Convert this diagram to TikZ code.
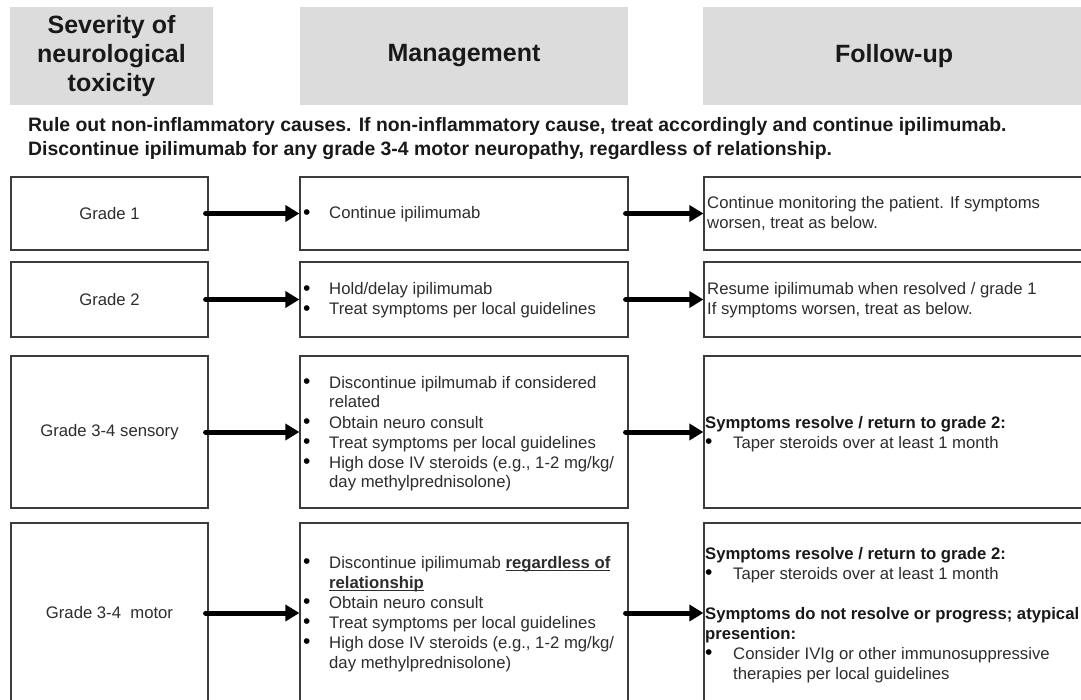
\documentclass[tikz,border=0pt]{standalone}
\usepackage{fontspec}
\setmainfont{Liberation Sans}
\usetikzlibrary{arrows.meta}
\definecolor{hdrfill}{RGB}{220,220,220}
\definecolor{boxline}{RGB}{60,60,60}
\definecolor{bodytext}{RGB}{45,45,45}
\definecolor{strongtext}{RGB}{25,25,25}
\newcommand\bodyfont{\fontsize{16.7pt}{20pt}\selectfont}
\newcommand\bul{\textcolor{black}{\fontsize{21pt}{20pt}\selectfont\raisebox{-0.9pt}{\textbullet}}}
% bold text with a heavy underline
\newsavebox\thickulbox
\newcommand\thickul[1]{\sbox\thickulbox{\bfseries #1}\rlap{\rule[-2.8pt]{\wd\thickulbox}{1.3pt}}\usebox\thickulbox}
\begin{document}
\begin{tikzpicture}[x=1pt,y=-1pt,
  hdr/.style={fill=hdrfill, draw=none, inner sep=0pt, align=center, text=strongtext,
              font=\fontsize{25pt}{29pt}\selectfont\bfseries},
  box/.style={draw=boxline, line width=1.2pt, inner sep=0pt, fill=white},
  leftbox/.style={box, minimum width=197pt, font=\bodyfont, text=bodytext},
  midbox/.style={box, minimum width=328pt},
  rightbox/.style={box, minimum width=382pt},
  txt/.style={inner sep=0pt, anchor=base west, text=bodytext, font=\bodyfont},
  arr/.style={line width=5pt, draw=black, line cap=round, -{Triangle[length=14pt,width=16pt]}}
]
\useasboundingbox (0,0) rectangle (1081,700);
\clip (0,0) rectangle (1081,700);

% column headers
\node[hdr, minimum width=203pt, minimum height=98pt] (hsev) at (111.5,56) {Severity of\\neurological\\toxicity};
\node[hdr, minimum width=328pt, minimum height=98pt] (hman) at (464,56) {Management};
\node[hdr, minimum width=382pt, minimum height=98pt] (hfol) at (894,56) {Follow-up};

% general rule
\node[txt, text=strongtext, font=\fontsize{19.4pt}{23.5pt}\selectfont\bfseries] (rule) at (28,132)
  {\begin{tabular}[t]{@{}l@{}}
   Rule out non-inflammatory causes. If non-inflammatory cause, treat accordingly and continue ipilimumab.\\
   Discontinue ipilimumab for any grade 3-4 motor neuropathy, regardless of relationship.
   \end{tabular}};

% grade 1
\node[leftbox, minimum height=73pt] (g1) at (109.5,213.5) {Grade 1};
\node[midbox, minimum height=73pt] (m1) at (464,213.5) {};
\node[rightbox, minimum height=73pt] (f1) at (895,213.5) {};
\node[txt] (m1t) at (303,219)
  {\begin{tabular}[t]{@{}p{26pt}@{}l@{}}\bul & Continue ipilimumab\end{tabular}};
\node[txt] (f1t) at (707,209)
  {\begin{tabular}[t]{@{}l@{}}Continue monitoring the patient. If symptoms\\worsen, treat as below.\end{tabular}};

% grade 2
\node[leftbox, minimum height=75pt] (g2) at (109.5,299.5) {Grade 2};
\node[midbox, minimum height=75pt] (m2) at (464,299.5) {};
\node[rightbox, minimum height=75pt] (f2) at (895,299.5) {};
\node[txt] (m2t) at (303,295)
  {\begin{tabular}[t]{@{}p{26pt}@{}l@{}}\bul & Hold/delay ipilimumab\\ \bul & Treat symptoms per local guidelines\end{tabular}};
\node[txt] (f2t) at (707,295)
  {\begin{tabular}[t]{@{}l@{}}Resume ipilimumab when resolved / grade 1\\If symptoms worsen, treat as below.\end{tabular}};

% grade 3-4 sensory
\node[leftbox, minimum height=152pt] (g3) at (109.5,432) {Grade 3-4 sensory};
\node[midbox, minimum height=152pt] (m3) at (464,432) {};
\node[rightbox, minimum height=152pt] (f3) at (895,432) {};
\node[txt] (m3t) at (303,388)
  {\begin{tabular}[t]{@{}p{26pt}@{}l@{}}
   \bul & Discontinue ipilmumab if considered\\
        & related\\
   \bul & Obtain neuro consult\\
   \bul & Treat symptoms per local guidelines\\
   \bul & High dose IV steroids (e.g., 1-2 mg/kg/\\
        & day methylprednisolone)
   \end{tabular}};
\node[txt] (f3t) at (705,428)
  {\begin{tabular}[t]{@{}p{28pt}@{}l@{}}
   \multicolumn{2}{@{}l@{}}{\textcolor{strongtext}{\bfseries Symptoms resolve / return to grade 2:}}\\
   \bul & Taper steroids over at least 1 month
   \end{tabular}};

% grade 3-4 motor
\node[leftbox, minimum height=180pt] (g4) at (109.5,613) {Grade 3-4~ motor};
\node[midbox, minimum height=180pt] (m4) at (464,613) {};
\node[rightbox, minimum height=180pt] (f4) at (895,613) {};
\node[txt] (m4t) at (303,568)
  {\begin{tabular}[t]{@{}p{26pt}@{}l@{}}
   \bul & Discontinue ipilimumab \thickul{regardless of}\\
        & \thickul{relationship}\\
   \bul & Obtain neuro consult\\
   \bul & Treat symptoms per local guidelines\\
   \bul & High dose IV steroids (e.g., 1-2 mg/kg/\\
        & day methylprednisolone)
   \end{tabular}};
\node[txt] (f4t) at (705,559)
  {\begin{tabular}[t]{@{}p{28pt}@{}l@{}}
   \multicolumn{2}{@{}l@{}}{\textcolor{strongtext}{\bfseries Symptoms resolve / return to grade 2:}}\\
   \bul & Taper steroids over at least 1 month\\
   \multicolumn{2}{@{}l@{}}{}\\
   \multicolumn{2}{@{}l@{}}{\textcolor{strongtext}{\bfseries Symptoms do not resolve or progress; atypical}}\\
   \multicolumn{2}{@{}l@{}}{\textcolor{strongtext}{\bfseries presention:}}\\
   \bul & Consider IVIg or other immunosuppressive\\
        & therapies per local guidelines
   \end{tabular}};

% connectors
\foreach \r in {1,2,3,4}{
  \draw[arr] ([xshift=-3pt]g\r.east) -- (m\r.west);
  \draw[arr] ([xshift=-3pt]m\r.east) -- (f\r.west);
}
\end{tikzpicture}
\end{document}
